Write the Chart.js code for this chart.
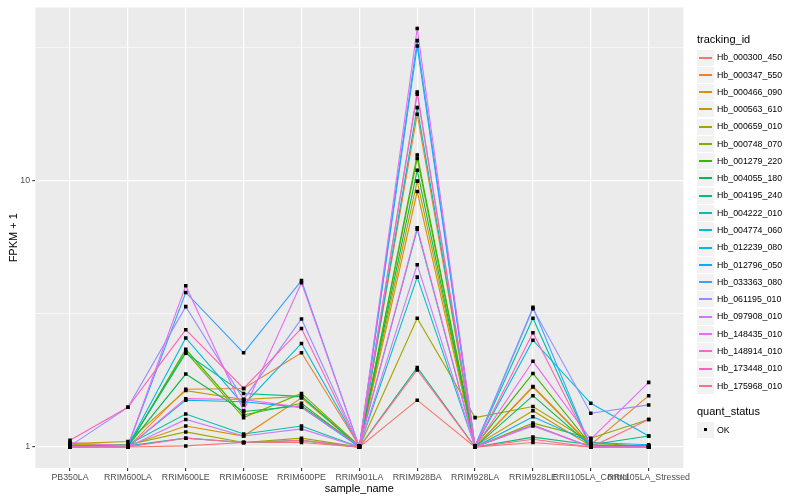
<!DOCTYPE html>
<html><head><meta charset="utf-8">
<script src="https://cdn.jsdelivr.net/npm/chart.js@4.4.1/dist/chart.umd.min.js"></script>
<style>
html,body{margin:0;padding:0;background:#fff;}
#wrap{position:relative;width:800px;height:500px;font-family:"Liberation Sans",Arial,sans-serif;}
#c{position:absolute;left:0;top:0;}
.lg-title{position:absolute;left:697px;font-size:11px;color:#000;line-height:11px;white-space:nowrap;}
.lg-key{position:absolute;left:697px;width:17px;height:17px;background:#F2F2F2;border-top:1px solid #fff;box-sizing:border-box;}
.lg-line{position:absolute;left:2px;width:13px;top:7px;height:2px;}
.lg-pt{position:absolute;left:7px;top:6px;width:3px;height:3px;background:#000;}
.lg-label{position:absolute;left:717px;font-size:8.8px;color:#000;line-height:10px;white-space:nowrap;}
</style></head>
<body><div id="wrap"><canvas id="c" width="800" height="500"></canvas><div id="legend"></div></div>
<script>
const categories = ["PB350LA","RRIM600LA","RRIM600LE","RRIM600SE","RRIM600PE","RRIM901LA","RRIM928BA","RRIM928LA","RRIM928LE","RRII105LA_Control","RRII105LA_Stressed"];
const trackingIds = ["Hb_000300_450","Hb_000347_550","Hb_000466_090","Hb_000563_610","Hb_000659_010","Hb_000748_070","Hb_001279_220","Hb_004055_180","Hb_004195_240","Hb_004222_010","Hb_004774_060","Hb_012239_080","Hb_012796_050","Hb_033363_080","Hb_061195_010","Hb_097908_010","Hb_148435_010","Hb_148914_010","Hb_173448_010","Hb_175968_010"];
const seriesColors = ["#F8766D","#EA8331","#D89000","#C09B00","#A3A500","#7CAE00","#39B600","#00BB4E","#00BF7D","#00C1A3","#00BFC4","#00BAE0","#00B0F6","#35A2FF","#9590FF","#C77CFF","#E76BF3","#FA62DB","#FF62BC","#FF6C91"];
const quantStatus = ["OK"];

const Hb_000300_450 = [1.00,1.00,1.01,1.04,1.04,1.00,1.50,1.00,1.04,1.00,1.00];
const Hb_000347_550 = [1.01,1.00,1.65,1.66,2.26,1.01,17.81,1.00,1.69,1.02,1.56];
const Hb_000466_090 = [1.02,1.01,1.20,1.10,1.53,1.00,9.12,1.00,1.68,1.01,1.01];
const Hb_000563_610 = [1.03,1.05,1.63,1.51,1.55,1.01,9.98,1.01,1.37,1.01,1.00];
const Hb_000659_010 = [1.02,1.02,1.14,1.04,1.08,1.00,3.05,1.29,1.42,1.04,1.00];
const Hb_000748_070 = [1.00,1.01,2.28,1.29,1.59,1.01,12.13,1.00,1.23,1.08,1.27];
const Hb_001279_220 = [1.01,1.00,2.33,1.32,1.46,1.00,12.52,1.01,1.89,1.02,1.01];
const Hb_004055_180 = [1.00,1.01,1.88,1.36,1.43,1.01,10.97,1.00,1.56,1.01,1.00];
const Hb_004195_240 = [1.01,1.01,2.25,1.59,1.55,1.00,1.99,1.00,1.09,1.02,1.10];
const Hb_004222_010 = [1.00,1.02,1.33,1.12,1.20,1.00,18.85,1.01,3.05,1.00,1.01];
const Hb_004774_060 = [1.00,1.01,1.08,1.04,1.06,1.00,4.35,1.00,1.21,1.00,1.00];
const Hb_012239_080 = [1.01,1.01,2.57,1.44,2.45,1.01,6.58,1.00,2.52,1.46,1.10];
const Hb_012796_050 = [1.00,1.00,1.50,1.48,1.41,1.00,32.11,1.00,1.30,1.04,1.02];
const Hb_033363_080 = [1.00,1.01,3.81,2.26,4.22,1.00,33.65,1.01,3.35,1.00,1.00];
const Hb_061195_010 = [1.01,1.41,3.37,1.51,3.03,1.01,21.16,1.00,3.31,1.34,1.44];
const Hb_097908_010 = [1.00,1.00,1.27,1.10,1.17,1.00,4.84,1.00,1.20,1.00,1.00];
const Hb_148435_010 = [1.04,1.01,4.04,1.37,4.14,1.00,37.40,1.00,2.10,1.07,1.75];
const Hb_148914_010 = [1.00,1.00,1.52,1.51,1.41,1.01,6.67,1.00,1.21,1.00,1.00];
const Hb_173448_010 = [1.06,1.41,2.76,1.66,2.79,1.00,21.58,1.00,2.69,1.00,1.00];
const Hb_175968_010 = [1.00,1.00,1.08,1.04,1.06,1.00,1.95,1.00,1.07,1.00,1.27];

const seriesValues = [Hb_000300_450,Hb_000347_550,Hb_000466_090,Hb_000563_610,Hb_000659_010,Hb_000748_070,Hb_001279_220,Hb_004055_180,Hb_004195_240,Hb_004222_010,Hb_004774_060,Hb_012239_080,Hb_012796_050,Hb_033363_080,Hb_061195_010,Hb_097908_010,Hb_148435_010,Hb_148914_010,Hb_173448_010,Hb_175968_010];

const FAMILY = '"Liberation Sans", Arial, sans-serif';

// ggplot-like log range with 5% expansion
const allVals = seriesValues.flat();
const lo = Math.log10(Math.min(...allVals)), hi = Math.log10(Math.max(...allVals));
const pad = (hi - lo) * 0.05;
const yMin = Math.pow(10, lo - pad), yMax = Math.pow(10, hi + pad);
const majorY = [1, 10];
const yBreaks = [1, Math.sqrt(10), 10, Math.sqrt(1000)];
const isMajor = v => majorY.some(m => Math.abs(m - v) < 1e-9);

const lineSets = seriesValues.map((vals, i) => ({
  label: trackingIds[i],
  data: vals.map((v, j) => ({x: j, y: v})),
  borderColor: seriesColors[i],
  backgroundColor: seriesColors[i],
  borderWidth: 1.1,
  pointRadius: 0,
  fill: false,
  tension: 0,
  order: 100 - i
}));
const pointSet = {
  label: quantStatus[0],
  data: seriesValues.flatMap(vals => vals.map((v, j) => ({x: j, y: v}))),
  showLine: false,
  pointStyle: 'rect',
  pointRadius: 2.5,
  pointBackgroundColor: '#000',
  pointBorderWidth: 0,
  order: 0
};

const panelBg = {
  id: 'panelBg',
  beforeDraw(chart) {
    const {ctx, chartArea: a} = chart;
    ctx.save();
    ctx.fillStyle = '#EBEBEB';
    ctx.fillRect(a.left, a.top, a.right - a.left, a.bottom - a.top);
    ctx.restore();
  }
};

new Chart(document.getElementById('c'), {
  type: 'line',
  data: { datasets: [...lineSets, pointSet] },
  options: {
    responsive: false,
    animation: false,
    devicePixelRatio: 1,
    layout: { padding: { top: 6, right: 116.6, left: 0, bottom: 0 } },
    plugins: { legend: { display: false }, tooltip: { enabled: false } },
    scales: {
      x: {
        type: 'linear',
        min: -0.6, max: categories.length - 1 + 0.6,
        afterBuildTicks: s => { s.ticks = categories.map((_, i) => ({value: i})); },
        afterFit: s => { s.height = 32; s.paddingLeft = 0; s.paddingRight = 0; },
        border: { display: false },
        grid: { color: '#FFFFFF', lineWidth: 1.2, tickLength: 3, tickColor: '#333333', tickWidth: 1.1 },
        ticks: { autoSkip: false, maxRotation: 0, minRotation: 0, padding: 1, color: '#4D4D4D',
                 font: { family: FAMILY, size: 8.8 }, callback: v => categories[v] ?? '' },
        title: { display: true, text: 'sample_name', color: '#000', font: { family: FAMILY, size: 11 }, padding: { top: 0, bottom: 4 } }
      },
      y: {
        type: 'logarithmic',
        min: yMin, max: yMax,
        afterBuildTicks: s => { s.ticks = yBreaks.map(v => ({value: v})); },
        afterFit: s => { s.width = 35.3; },
        border: { display: false },
        grid: {
          color: '#FFFFFF',
          lineWidth: ctx => (ctx.tick && isMajor(ctx.tick.value)) ? 1.2 : 0.6,
          tickLength: 3,
          tickColor: ctx => (ctx.tick && isMajor(ctx.tick.value)) ? '#333333' : 'rgba(0,0,0,0)',
          tickWidth: 1.1
        },
        ticks: { padding: 2.2, color: '#4D4D4D', font: { family: FAMILY, size: 8.8 },
                 callback: v => isMajor(v) ? String(Math.round(v)) : '' },
        title: { display: true, text: 'FPKM + 1', color: '#000', font: { family: FAMILY, size: 11 }, padding: { top: 7, bottom: 0 } }
      }
    }
  },
  plugins: [panelBg]
});

// ggplot-style legend (HTML text)
const lg = document.getElementById('legend');
function addTitle(text, top) {
  const d = document.createElement('div'); d.className = 'lg-title'; d.style.top = top + 'px'; d.textContent = text; lg.appendChild(d);
}
function addKey(center, inner, label) {
  const k = document.createElement('div'); k.className = 'lg-key'; k.style.top = Math.round(center - 8.5) + 'px';
  k.appendChild(inner); lg.appendChild(k);
  const t = document.createElement('div'); t.className = 'lg-label'; t.style.top = (center - 4.75) + 'px'; t.textContent = label; lg.appendChild(t);
}
addTitle('tracking_id', 34.2);
trackingIds.forEach((id, i) => {
  const ln = document.createElement('div'); ln.className = 'lg-line'; ln.style.background = seriesColors[i];
  addKey(57.0 + 17.28 * i, ln, id);
});
addTitle('quant_status', 405.7);
quantStatus.forEach((q, i) => {
  const p = document.createElement('div'); p.className = 'lg-pt';
  addKey(429.3 + 17.28 * i, p, q);
});
</script>
</body></html>
